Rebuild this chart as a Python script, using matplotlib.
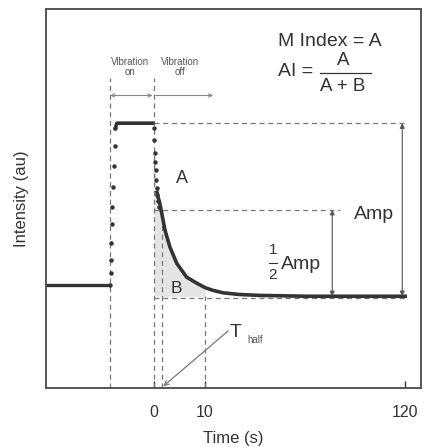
import numpy as np
import matplotlib
matplotlib.use("Agg")
from matplotlib import pyplot as plt

plt.rcParams['font.family'] = ['Liberation Sans', 'DejaVu Sans']

# time (s) and intensity (au)
base_t = [-21.2, -8.7]
base_i = [1.13, 1.13]

rise_t = [-8.6, -8.5, -8.45, -8.4, -8.3, -8.2, -8.1, -7.9, -7.7, -7.6]
rise_i = [1.13, 1.27, 1.42, 1.62, 1.83, 2.03, 2.26, 2.5, 2.74, 2.94]

plat_t = [-7.6, -7.3, -0.3]
plat_i = [2.94, 3.0, 3.0]

drop_t = [0.04, 0.08, 0.14, 0.2, 0.3, 0.4, 0.5, 0.63, 0.75, 0.9]
drop_i = [2.94, 2.80, 2.66, 2.55, 2.46, 2.34, 2.25, 2.17, 2.10, 2.03]

fit_t = [0.6, 0.78, 1.18, 1.5, 2.16, 3.1, 4.45, 6.4, 8.4, 10, 14, 19.9, 29, 40, 66, 90, 120]
fit_i = [2.2, 2.15, 2.06, 1.96, 1.76, 1.57, 1.38, 1.22, 1.15, 1.10, 1.07, 1.04, 1.02, 1.01, 1.0, 1.0, 1.0]

t_on = -8.6
t_half = 1.6
amp_top = 3.0
amp_half = 2.0
amp_low = 1.0
xticks = [0, 10, 120]


# broken time axis: 0-10 s is stretched
def fwd(t):
    t = np.asarray(t, dtype=float)
    return np.where(t <= 10, t * 5.1, 51 + (t - 10) * 200 / 110)


def inv(p):
    p = np.asarray(p, dtype=float)
    return np.where(p <= 51, p / 5.1, 10 + (p - 51) * 110 / 200)


fig = plt.figure(figsize=(4.25, 4.47), dpi=100)
ax = fig.add_axes([0.108, 0.132, 0.883, 0.848])
ax.set_xscale('function', functions=(fwd, inv))
ax.set_xlim(-21.2, 128.8)
ax.set_ylim(-0.06, 4.32)

dark = '#333333'
grey = '#777777'

# shaded B area
bt = [t for t in fit_t if t <= 10]
bi = fit_i[:len(bt)]
ax.fill_between([0] + drop_t + bt, amp_low, [3.0] + drop_i + bi, color='#e4e4e4', lw=0)

# dashed guides
dash = dict(color=grey, lw=0.9, ls=(0, (4, 3)))
ax.plot([t_on, t_on], [-0.06, 3.52], **dash)
ax.plot([0, 0], [-0.06, 3.52], **dash)
ax.plot([t_half, t_half], [-0.06, amp_half], **dash)
ax.plot([10, 10], [-0.06, amp_low], **dash)
ax.plot([0, 120], [amp_top, amp_top], **dash)
ax.plot([0, 84], [amp_half, amp_half], **dash)
ax.plot([0, 120], [amp_low - 0.02, amp_low - 0.02], **dash)

# data
ax.plot(base_t, base_i, color=dark, lw=2.4, solid_capstyle='butt')
ax.plot(rise_t, rise_i, 'o', color=dark, ms=2.2)
ax.plot(plat_t, plat_i, color=dark, lw=2.6)
ax.plot(drop_t, drop_i, 'o', color=dark, ms=2.2)
ax.plot(fit_t, fit_i, color=dark, lw=2.6)

# arrows
ap = dict(arrowstyle='<|-|>', color='#555555', lw=0.8, mutation_scale=7, shrinkA=0, shrinkB=0)
ax.annotate('', xy=(118.4, amp_top), xytext=(118.4, amp_low), arrowprops=ap)
ax.annotate('', xy=(79.9, amp_half), xytext=(79.9, amp_low), arrowprops=ap)
ap2 = dict(arrowstyle='<->', color='#888888', lw=0.8, mutation_scale=6, shrinkA=0, shrinkB=0)
ax.annotate('', xy=(t_on, 3.32), xytext=(-0.3, 3.32), arrowprops=ap2)
ax.annotate('', xy=(0.3, 3.32), xytext=(14.4, 3.32),
            arrowprops=dict(arrowstyle='<-', color='#888888', lw=0.8, mutation_scale=6, shrinkA=0, shrinkB=0))
ax.annotate('', xy=(t_half + 0.2, -0.04), xytext=(22.7, 0.6),
            arrowprops=dict(arrowstyle='->', color='#777777', lw=0.9, mutation_scale=8, shrinkA=0, shrinkB=0))

# labels
ax.text(-4.7, 3.65, 'Vibration\non', fontsize=7, color='#555555', ha='center', va='center', linespacing=1.05)
ax.text(5.1, 3.65, 'Vibration\noff', fontsize=7, color='#555555', ha='center', va='center', linespacing=1.05)
ax.text(5.5, 2.36, 'A', fontsize=13, color=dark, ha='center', va='center')
ax.text(4.3, 1.09, 'B', fontsize=12.5, color=dark, ha='center', va='center')
ax.text(103, 1.94, 'Amp', fontsize=14, color=dark, ha='center', va='center')
ax.text(47.3, 1.53, '1', fontsize=11, color=dark, ha='center', va='center')
ax.text(47.3, 1.24, '2', fontsize=11, color=dark, ha='center', va='center')
ax.plot([45, 49.6], [1.39, 1.39], color=dark, lw=0.8)
ax.text(51.5, 1.37, 'Amp', fontsize=14, color=dark, ha='left', va='center')
ax.text(27, 0.58, 'T', fontsize=14, color=dark, ha='center', va='center')
ax.text(33.1, 0.5, 'half', fontsize=7, color='#555555', ha='left', va='center')

ax.text(50.2, 3.94, 'M Index = A', fontsize=14, color=dark, ha='left', va='center')
ax.text(50.2, 3.60, 'AI =', fontsize=14, color=dark, ha='left', va='center')
ax.text(85.9, 3.73, 'A', fontsize=13.5, color=dark, ha='center', va='center')
ax.text(85.9, 3.42, 'A + B', fontsize=13.5, color=dark, ha='center', va='center')
ax.plot([73.3, 101.3], [3.58, 3.58], color=dark, lw=0.9)

ax.set_xticks(xticks)
ax.set_xticklabels([str(v) for v in xticks])
ax.set_yticks([])
ax.tick_params(axis='x', direction='in', length=5, width=1, colors=dark, labelsize=11.5, pad=12)
for s in ax.spines.values():
    s.set_color('#555555')
    s.set_linewidth(1.4)
ax.set_xlabel('Time (s)', fontsize=12, color=dark, labelpad=8)
ax.set_ylabel('Intensity (au)', fontsize=12, color=dark, labelpad=12)

fig.savefig('out.png', dpi=100)
